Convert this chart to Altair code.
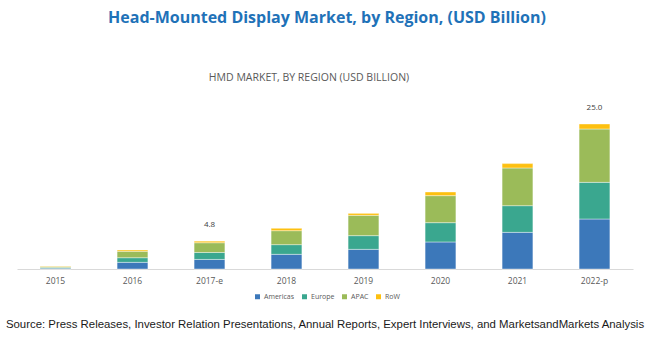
import altair as alt
import pandas as pd

years = ["2015", "2016", "2017-e", "2018", "2019", "2020", "2021", "2022-p"]
regions = ["Americas", "Europe", "APAC", "RoW"]
americas = [0.15, 1.15, 1.65, 2.53, 3.39, 4.66, 6.32, 8.62]
europe = [0.12, 0.80, 1.20, 1.67, 2.36, 3.33, 4.60, 6.32]
apac = [0.18, 1.10, 1.68, 2.41, 3.50, 4.66, 6.50, 9.20]
row = [0.05, 0.23, 0.27, 0.40, 0.34, 0.63, 0.75, 0.86]
total_labels = ["", "", "4.8", "", "", "", "", "25.0"]
colors = ["#3c78ba", "#3aa78f", "#9bbb59", "#fdc010"]

series = [americas, europe, apac, row]
rows = []
for ri, (reg, vals) in enumerate(zip(regions, series)):
    for y, v in zip(years, vals):
        rows.append({"year": y, "region": reg, "value": v, "order": ri})
df = pd.DataFrame(rows)

tot = pd.DataFrame({
    "year": years,
    "total": [a + b + c + d for a, b, c, d in zip(americas, europe, apac, row)],
    "label": total_labels,
})
tot = tot[tot["label"] != ""]

x = alt.X("year:N", sort=years, title=None,
          scale=alt.Scale(paddingInner=0.6, paddingOuter=0.3),
          axis=alt.Axis(labelAngle=0, ticks=False, domainColor="#d9d9d9",
                        labelFontSize=8.5, labelColor="#595959", labelPadding=7,
                        labelFont="Open Sans"))
yscale = alt.Scale(domain=[0, 30], nice=False)

bars = alt.Chart(df).mark_bar(stroke="white", strokeWidth=0.4).encode(
    x=x,
    y=alt.Y("value:Q", stack="zero", scale=yscale, axis=None),
    color=alt.Color("region:N", sort=regions,
                    scale=alt.Scale(domain=regions, range=colors),
                    legend=alt.Legend(title=None, orient="none", direction="horizontal",
                                      legendX=237, legendY=198, symbolType="square",
                                      symbolSize=25, labelFontSize=7, labelColor="#595959",
                                      labelFont="Open Sans", columnPadding=6, labelOffset=3,
                                      symbolStrokeWidth=0)),
    order=alt.Order("order:Q", sort="ascending"),
)

labels = alt.Chart(tot).mark_text(baseline="bottom", dy=-12, fontSize=8,
                                  color="#404040", font="Open Sans").encode(
    x=alt.X("year:N", sort=years),
    y=alt.Y("total:Q", scale=yscale, axis=None),
    text="label:N",
)

title = alt.Chart(pd.DataFrame({"t": ["Head-Mounted Display Market, by Region, (USD Billion)"]})).mark_text(
    fontSize=16, fontWeight="bold", color="#1f72b8", font="Open Sans", align="center", baseline="middle"
).encode(x=alt.value(310), y=alt.value(-77), text="t:N")

subtitle = alt.Chart(pd.DataFrame({"t": ["HMD MARKET, BY REGION (USD BILLION)"]})).mark_text(
    fontSize=10.5, color="#595959", font="Open Sans", align="center", baseline="middle"
).encode(x=alt.value(292), y=alt.value(-17), text="t:N")

source = alt.Chart(pd.DataFrame({"t": ["Source: Press Releases, Investor Relation Presentations, Annual Reports, Expert Interviews, and MarketsandMarkets Analysis"]})).mark_text(
    fontSize=11.4, color="#1a1a1a", font="Liberation Sans", align="center", baseline="middle"
).encode(x=alt.value(308), y=alt.value(230), text="t:N")

chart = alt.layer(bars, labels, title, subtitle, source).properties(
    width=616, height=174,
    padding={"left": 17, "right": 17, "top": 95, "bottom": 73},
    autosize=alt.AutoSizeParams(type="none"),
).configure(background="white").configure_view(stroke=None)

chart.save("out.html", embed_options={"renderer": "svg", "actions": False})
